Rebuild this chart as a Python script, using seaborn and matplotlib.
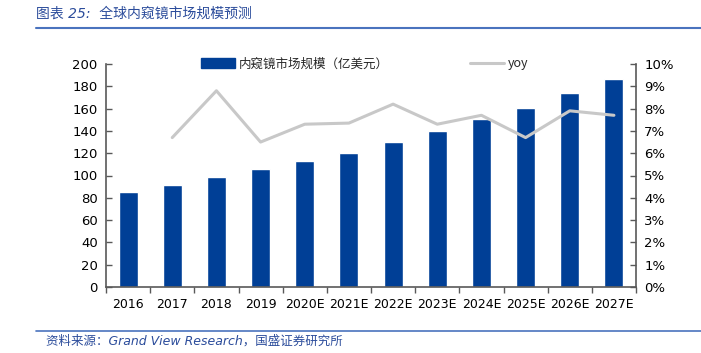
import numpy as np
import pandas as pd
import matplotlib
matplotlib.use("Agg")
import matplotlib.pyplot as plt
from matplotlib.lines import Line2D
from matplotlib.ticker import FuncFormatter, MultipleLocator, FixedLocator
import seaborn as sns

# data
years = ['2016', '2017', '2018', '2019', '2020E', '2021E', '2022E',
         '2023E', '2024E', '2025E', '2026E', '2027E']
market_size = [85.5, 91.5, 99.0, 105.5, 113.0, 120.4, 130.3, 140.2,
               151.0, 160.8, 173.7, 186.5]
yoy_years = years[1:]
yoy = [6.7, 8.8, 6.5, 7.3, 7.35, 8.2, 7.3, 7.7, 6.7, 7.9, 7.7]

bar_label = '内窥镜市场规模（亿美元）'
line_label = 'yoy'
title = '图表 25:  全球内窥镜市场规模预测'
source = '资料来源：Grand View Research，国盛证券研究所'

bar_color = '#003F96'
line_color = '#C8C8C8'
text_blue = '#2B4C9B'
rule_blue = '#4A73BE'
spine_grey = '#595959'

sns.set_theme(style="white")
plt.rcParams['font.family'] = ['DejaVu Sans', 'Noto Sans CJK SC']

df_bar = pd.DataFrame({'year': years, 'size': market_size})
pos = {y: i for i, y in enumerate(years)}
df_yoy = pd.DataFrame({'x': [pos[y] for y in yoy_years], 'yoy': yoy})

fig = plt.figure(figsize=(7.01, 3.53), dpi=100)
ax = fig.add_axes([106 / 701, 1 - 287 / 353, 530 / 701, 223 / 353])

sns.barplot(data=df_bar, x='year', y='size', color=bar_color, width=0.43,
            saturation=1, ax=ax, zorder=2)
ax.set_xlim(-0.5, len(years) - 0.5)
ax.set_ylim(0, 200)
ax.yaxis.set_major_locator(MultipleLocator(20))
ax.set_xlabel('')
ax.set_ylabel('')

ax2 = ax.twinx()
sns.lineplot(data=df_yoy, x='x', y='yoy', color=line_color, linewidth=2.2,
             ax=ax2, zorder=3)
ax2.set_ylim(0, 10)
ax2.yaxis.set_major_locator(MultipleLocator(1))
ax2.yaxis.set_major_formatter(FuncFormatter(lambda v, p: f"{v:.0f}%"))
ax2.set_xlabel('')
ax2.set_ylabel('')
ax.set_zorder(1)
ax2.set_zorder(2)
ax.patch.set_visible(False)

for a in (ax, ax2):
    for s in a.spines.values():
        s.set_visible(False)
ax.spines['left'].set_visible(True)
ax.spines['bottom'].set_visible(True)
ax2.spines['right'].set_visible(True)
for s in (ax.spines['left'], ax.spines['bottom'], ax2.spines['right']):
    s.set_color(spine_grey)
    s.set_linewidth(1.2)

ax.tick_params(axis='y', direction='in', length=4, width=1, color=spine_grey,
               labelsize=9.5, pad=6, left=True)
ax2.tick_params(axis='y', direction='in', length=4, width=1, color=spine_grey,
                labelsize=9.5, pad=6, right=True)
ax.tick_params(axis='x', length=0, labelsize=9, pad=8)
ax.xaxis.set_minor_locator(FixedLocator(np.arange(-0.5, len(years), 1)))
ax.tick_params(axis='x', which='minor', direction='out', length=4, width=1,
               color=spine_grey, bottom=True)
for lab in ax.get_xticklabels() + ax.get_yticklabels() + ax2.get_yticklabels():
    lab.set_color('black')

handles = [plt.Rectangle((0, 0), 1, 1, color=bar_color),
           Line2D([0], [0], color=line_color, linewidth=2.2)]
fig.legend(handles, [bar_label, line_label], loc='center left',
           bbox_to_anchor=(190 / 701, 1 - 64 / 353), ncol=2, frameon=False,
           fontsize=9, handlelength=2.7, handleheight=0.9, handletextpad=0.3,
           columnspacing=6.5, prop={'family': ['Noto Sans CJK SC'], 'size': 9})

fig.text(36 / 701, 1 - 14 / 353, title, color=text_blue, fontsize=10,
         va='center', ha='left', style='italic',
         family=['DejaVu Sans', 'Noto Sans CJK SC'])
fig.add_artist(Line2D([36 / 701, 1], [1 - 28 / 353] * 2, color=rule_blue,
                      linewidth=1.5))
fig.add_artist(Line2D([36 / 701, 1], [1 - 331 / 353] * 2, color=rule_blue,
                      linewidth=1.2))
fig.text(46 / 701, 1 - 341 / 353, source, color=text_blue, fontsize=9,
         va='center', ha='left', style='italic',
         family=['DejaVu Sans', 'Noto Sans CJK SC'])

fig.savefig('out.png', dpi=100)
